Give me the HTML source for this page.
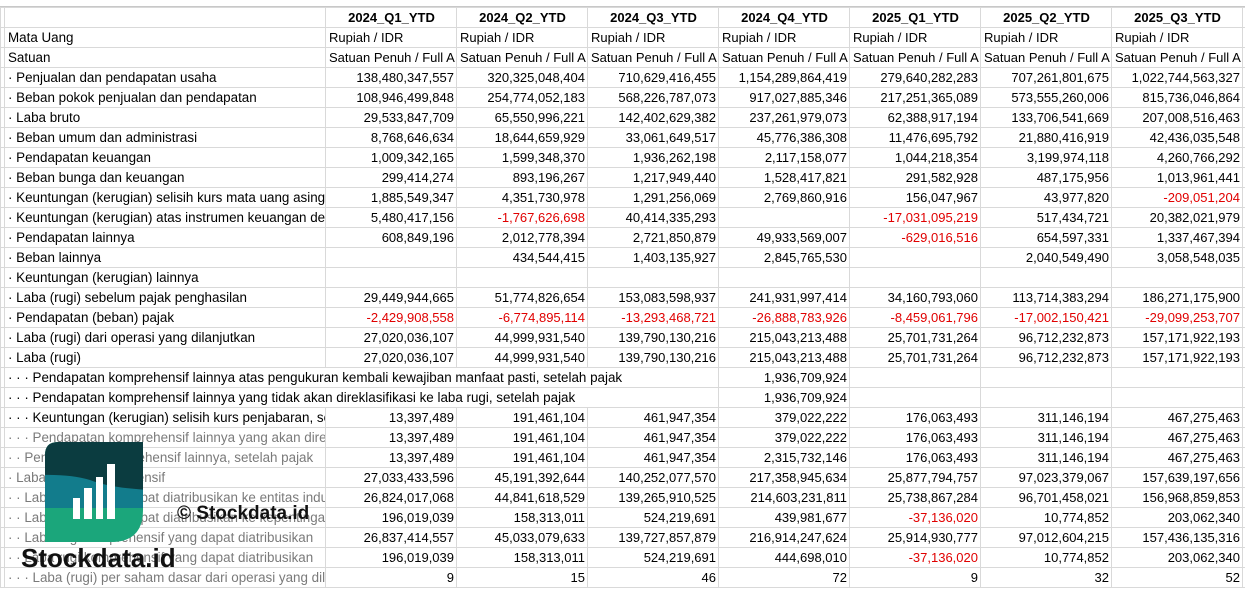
<!DOCTYPE html>
<html><head><meta charset="utf-8">
<style>
body{margin:0;width:1245px;height:593px;overflow:hidden;background:#fff;font-family:"Liberation Sans",sans-serif;font-size:13px;color:#000;position:relative}
table{position:absolute;top:7px;left:0;width:1245px;border-collapse:collapse;table-layout:fixed}
td{height:20px;padding:0 2px 0 3px;box-sizing:border-box;border:1px solid #d9d9d9;white-space:nowrap;overflow:hidden;line-height:19px}
td.l{font-size:13.4px}
td.n{text-align:right}
tr.h td{font-weight:bold;text-align:center}
.r{color:#e00000}
.g{color:#7a7a7a}
.top{position:absolute;top:0;left:0;width:1245px;height:7px;border-bottom:1px solid #c8c8c8;box-sizing:border-box}
</style></head><body>
<div class="top"></div>
<table>
<colgroup><col style="width:4px"><col style="width:321px"><col style="width:131px"><col style="width:131px"><col style="width:131px"><col style="width:131px"><col style="width:131px"><col style="width:131px"><col style="width:131px"><col style="width:3px"></colgroup>
<tr class="h"><td></td><td></td><td>2024_Q1_YTD</td><td>2024_Q2_YTD</td><td>2024_Q3_YTD</td><td>2024_Q4_YTD</td><td>2025_Q1_YTD</td><td>2025_Q2_YTD</td><td>2025_Q3_YTD</td><td></td></tr>
<tr><td></td><td class="l">Mata Uang</td><td>Rupiah / IDR</td><td>Rupiah / IDR</td><td>Rupiah / IDR</td><td>Rupiah / IDR</td><td>Rupiah / IDR</td><td>Rupiah / IDR</td><td>Rupiah / IDR</td><td></td></tr>
<tr><td></td><td class="l">Satuan</td><td>Satuan Penuh / Full A</td><td>Satuan Penuh / Full A</td><td>Satuan Penuh / Full A</td><td>Satuan Penuh / Full A</td><td>Satuan Penuh / Full A</td><td>Satuan Penuh / Full A</td><td>Satuan Penuh / Full A</td><td></td></tr>
<tr><td></td><td class="l">· Penjualan dan pendapatan usaha</td><td class="n">138,480,347,557</td><td class="n">320,325,048,404</td><td class="n">710,629,416,455</td><td class="n">1,154,289,864,419</td><td class="n">279,640,282,283</td><td class="n">707,261,801,675</td><td class="n">1,022,744,563,327</td><td></td></tr>
<tr><td></td><td class="l">· Beban pokok penjualan dan pendapatan</td><td class="n">108,946,499,848</td><td class="n">254,774,052,183</td><td class="n">568,226,787,073</td><td class="n">917,027,885,346</td><td class="n">217,251,365,089</td><td class="n">573,555,260,006</td><td class="n">815,736,046,864</td><td></td></tr>
<tr><td></td><td class="l">· Laba bruto</td><td class="n">29,533,847,709</td><td class="n">65,550,996,221</td><td class="n">142,402,629,382</td><td class="n">237,261,979,073</td><td class="n">62,388,917,194</td><td class="n">133,706,541,669</td><td class="n">207,008,516,463</td><td></td></tr>
<tr><td></td><td class="l">· Beban umum dan administrasi</td><td class="n">8,768,646,634</td><td class="n">18,644,659,929</td><td class="n">33,061,649,517</td><td class="n">45,776,386,308</td><td class="n">11,476,695,792</td><td class="n">21,880,416,919</td><td class="n">42,436,035,548</td><td></td></tr>
<tr><td></td><td class="l">· Pendapatan keuangan</td><td class="n">1,009,342,165</td><td class="n">1,599,348,370</td><td class="n">1,936,262,198</td><td class="n">2,117,158,077</td><td class="n">1,044,218,354</td><td class="n">3,199,974,118</td><td class="n">4,260,766,292</td><td></td></tr>
<tr><td></td><td class="l">· Beban bunga dan keuangan</td><td class="n">299,414,274</td><td class="n">893,196,267</td><td class="n">1,217,949,440</td><td class="n">1,528,417,821</td><td class="n">291,582,928</td><td class="n">487,175,956</td><td class="n">1,013,961,441</td><td></td></tr>
<tr><td></td><td class="l">· Keuntungan (kerugian) selisih kurs mata uang asing</td><td class="n">1,885,549,347</td><td class="n">4,351,730,978</td><td class="n">1,291,256,069</td><td class="n">2,769,860,916</td><td class="n">156,047,967</td><td class="n">43,977,820</td><td class="n r">-209,051,204</td><td></td></tr>
<tr><td></td><td class="l">· Keuntungan (kerugian) atas instrumen keuangan derivatif</td><td class="n">5,480,417,156</td><td class="n r">-1,767,626,698</td><td class="n">40,414,335,293</td><td class="n"></td><td class="n r">-17,031,095,219</td><td class="n">517,434,721</td><td class="n">20,382,021,979</td><td></td></tr>
<tr><td></td><td class="l">· Pendapatan lainnya</td><td class="n">608,849,196</td><td class="n">2,012,778,394</td><td class="n">2,721,850,879</td><td class="n">49,933,569,007</td><td class="n r">-629,016,516</td><td class="n">654,597,331</td><td class="n">1,337,467,394</td><td></td></tr>
<tr><td></td><td class="l">· Beban lainnya</td><td class="n"></td><td class="n">434,544,415</td><td class="n">1,403,135,927</td><td class="n">2,845,765,530</td><td class="n"></td><td class="n">2,040,549,490</td><td class="n">3,058,548,035</td><td></td></tr>
<tr><td></td><td class="l">· Keuntungan (kerugian) lainnya</td><td></td><td></td><td></td><td></td><td></td><td></td><td></td><td></td></tr>
<tr><td></td><td class="l">· Laba (rugi) sebelum pajak penghasilan</td><td class="n">29,449,944,665</td><td class="n">51,774,826,654</td><td class="n">153,083,598,937</td><td class="n">241,931,997,414</td><td class="n">34,160,793,060</td><td class="n">113,714,383,294</td><td class="n">186,271,175,900</td><td></td></tr>
<tr><td></td><td class="l">· Pendapatan (beban) pajak</td><td class="n r">-2,429,908,558</td><td class="n r">-6,774,895,114</td><td class="n r">-13,293,468,721</td><td class="n r">-26,888,783,926</td><td class="n r">-8,459,061,796</td><td class="n r">-17,002,150,421</td><td class="n r">-29,099,253,707</td><td></td></tr>
<tr><td></td><td class="l">· Laba (rugi) dari operasi yang dilanjutkan</td><td class="n">27,020,036,107</td><td class="n">44,999,931,540</td><td class="n">139,790,130,216</td><td class="n">215,043,213,488</td><td class="n">25,701,731,264</td><td class="n">96,712,232,873</td><td class="n">157,171,922,193</td><td></td></tr>
<tr><td></td><td class="l">· Laba (rugi)</td><td class="n">27,020,036,107</td><td class="n">44,999,931,540</td><td class="n">139,790,130,216</td><td class="n">215,043,213,488</td><td class="n">25,701,731,264</td><td class="n">96,712,232,873</td><td class="n">157,171,922,193</td><td></td></tr>
<tr><td></td><td class="l" colspan="4">· · · Pendapatan komprehensif lainnya atas pengukuran kembali kewajiban manfaat pasti, setelah pajak</td><td class="n">1,936,709,924</td><td></td><td></td><td></td><td></td></tr>
<tr><td></td><td class="l" colspan="4">· · · Pendapatan komprehensif lainnya yang tidak akan direklasifikasi ke laba rugi, setelah pajak</td><td class="n">1,936,709,924</td><td></td><td></td><td></td><td></td></tr>
<tr><td></td><td class="l">· · · Keuntungan (kerugian) selisih kurs penjabaran, setelah pajak</td><td class="n">13,397,489</td><td class="n">191,461,104</td><td class="n">461,947,354</td><td class="n">379,022,222</td><td class="n">176,063,493</td><td class="n">311,146,194</td><td class="n">467,275,463</td><td></td></tr>
<tr><td></td><td class="l g">· · · Pendapatan komprehensif lainnya yang akan direklasifikasi</td><td class="n">13,397,489</td><td class="n">191,461,104</td><td class="n">461,947,354</td><td class="n">379,022,222</td><td class="n">176,063,493</td><td class="n">311,146,194</td><td class="n">467,275,463</td><td></td></tr>
<tr><td></td><td class="l g">· · Pendapatan komprehensif lainnya, setelah pajak</td><td class="n">13,397,489</td><td class="n">191,461,104</td><td class="n">461,947,354</td><td class="n">2,315,732,146</td><td class="n">176,063,493</td><td class="n">311,146,194</td><td class="n">467,275,463</td><td></td></tr>
<tr><td></td><td class="l g">· Laba (rugi) komprehensif</td><td class="n">27,033,433,596</td><td class="n">45,191,392,644</td><td class="n">140,252,077,570</td><td class="n">217,358,945,634</td><td class="n">25,877,794,757</td><td class="n">97,023,379,067</td><td class="n">157,639,197,656</td><td></td></tr>
<tr><td></td><td class="l g">· · Laba (rugi) yang dapat diatribusikan ke entitas induk</td><td class="n">26,824,017,068</td><td class="n">44,841,618,529</td><td class="n">139,265,910,525</td><td class="n">214,603,231,811</td><td class="n">25,738,867,284</td><td class="n">96,701,458,021</td><td class="n">156,968,859,853</td><td></td></tr>
<tr><td></td><td class="l g">· · Laba (rugi) yang dapat diatribusikan ke kepentingan</td><td class="n">196,019,039</td><td class="n">158,313,011</td><td class="n">524,219,691</td><td class="n">439,981,677</td><td class="n r">-37,136,020</td><td class="n">10,774,852</td><td class="n">203,062,340</td><td></td></tr>
<tr><td></td><td class="l g">· · Laba rugi komprehensif yang dapat diatribusikan</td><td class="n">26,837,414,557</td><td class="n">45,033,079,633</td><td class="n">139,727,857,879</td><td class="n">216,914,247,624</td><td class="n">25,914,930,777</td><td class="n">97,012,604,215</td><td class="n">157,436,135,316</td><td></td></tr>
<tr><td></td><td class="l g">· · Laba rugi komprehensif yang dapat diatribusikan</td><td class="n">196,019,039</td><td class="n">158,313,011</td><td class="n">524,219,691</td><td class="n">444,698,010</td><td class="n r">-37,136,020</td><td class="n">10,774,852</td><td class="n">203,062,340</td><td></td></tr>
<tr><td></td><td class="l g">· · · Laba (rugi) per saham dasar dari operasi yang dilanjutkan</td><td class="n">9</td><td class="n">15</td><td class="n">46</td><td class="n">72</td><td class="n">9</td><td class="n">32</td><td class="n">52</td><td></td></tr>
</table>
<svg style="position:absolute;left:0;top:0" width="1245" height="593">
<defs><clipPath id="c"><path d="M58,442 H143 V510 Q143,542 111,542 H45 V455 Q45,442 58,442 Z"/></clipPath></defs>
<g clip-path="url(#c)">
<rect x="40" y="440" width="110" height="110" fill="#1ba67b"/>
<rect x="40" y="472" width="110" height="36" fill="#127c8c"/>
<path d="M40,440 H150 V490 Q110,488 90,480 Q70,474 40,475 Z" fill="#0b3c40"/>
</g>
<rect x="73" y="498" width="7" height="21" fill="#fff"/>
<rect x="84" y="488" width="8" height="31" fill="#fff"/>
<rect x="96" y="477" width="7" height="42" fill="#fff"/>
<rect x="107" y="464" width="8" height="55" fill="#fff"/>
<text x="21" y="567" font-family="Liberation Sans,sans-serif" font-weight="bold" font-size="26" fill="#111">Stockdata.id</text>
<text x="177" y="519" font-family="Liberation Sans,sans-serif" font-weight="bold" font-size="19" fill="#111">© Stockdata.id</text>
</svg>
</body></html>
